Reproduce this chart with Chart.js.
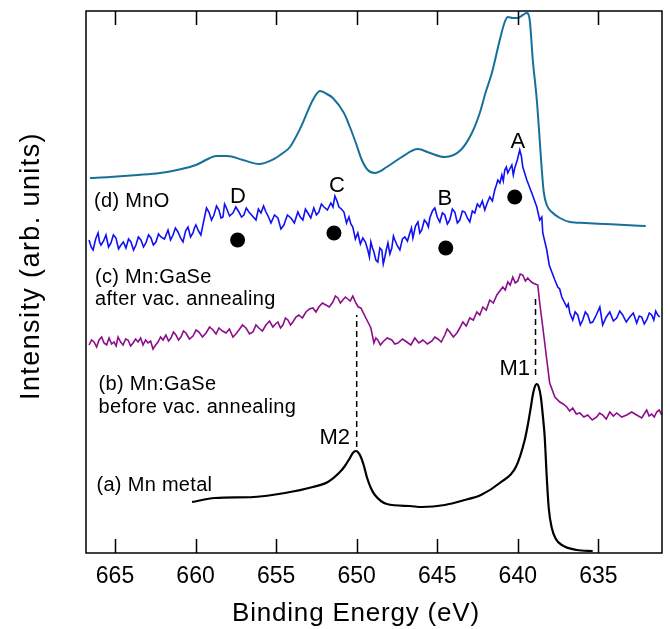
<!DOCTYPE html>
<html>
<head>
<meta charset="utf-8">
<script src="https://cdn.jsdelivr.net/npm/chart.js@4"></script>
<style>
  html, body { margin: 0; padding: 0; background: #fff; }
</style>
</head>
<body>
<canvas id="grafica" width="670" height="629"></canvas>
<script>
// Energía de enlace (eV) e intensidad (u. arb.)
const energiaMnO = [666.55, 665.31, 663.57, 662.21, 661.15, 659.98, 659.23, 658.73, 658.05, 657.06, 656.07, 655.14, 654.58, 654.14, 653.46, 652.72, 652.28, 651.85, 651.48, 650.79, 650.42, 650.05, 649.68, 649.31, 648.87, 648.13, 647.20, 646.20, 645.46, 644.53, 643.54, 642.85, 642.36, 641.99, 641.61, 641.12, 640.81, 640.62, 640.31, 640.00, 639.69, 639.44, 639.26, 639.07, 638.82, 638.64, 638.51, 638.39, 638.20, 637.89, 637.39, 636.77, 635.84, 634.60, 633.36, 632.06];
const intensidadMnO = [375, 376, 378, 380, 383, 388, 394, 397, 397, 393, 389, 394, 400, 406, 426, 453, 462, 459, 455, 440, 426, 410, 393, 383, 380, 386, 396, 404, 400, 396, 403, 420, 440, 461, 480, 513, 531, 536, 535, 535, 538, 540, 533, 493, 453, 413, 383, 361, 348, 341, 335, 331, 330, 329, 328, 327];

const energiaDespues = [666.61, 666.48, 666.36, 666.20, 666.05, 665.96, 665.87, 665.71, 665.56, 665.40, 665.25, 665.10, 664.94, 664.78, 664.63, 664.48, 664.32, 664.16, 664.01, 663.85, 663.70, 663.55, 663.39, 663.23, 663.08, 662.92, 662.77, 662.62, 662.46, 662.30, 662.15, 661.93, 661.71, 661.55, 661.40, 661.25, 661.09, 660.93, 660.78, 660.62, 660.47, 660.31, 660.16, 660.07, 659.98, 659.82, 659.67, 659.57, 659.48, 659.32, 659.17, 659.01, 658.86, 658.70, 658.55, 658.42, 658.30, 658.20, 658.11, 657.89, 657.68, 657.50, 657.31, 657.15, 657.00, 656.85, 656.69, 656.47, 656.25, 656.10, 655.94, 655.78, 655.63, 655.47, 655.32, 655.10, 654.89, 654.70, 654.52, 654.30, 654.08, 653.87, 653.65, 653.50, 653.34, 653.18, 653.03, 652.85, 652.66, 652.50, 652.35, 652.19, 652.03, 651.82, 651.60, 651.47, 651.35, 651.22, 651.10, 650.95, 650.79, 650.63, 650.48, 650.36, 650.24, 650.08, 649.93, 649.77, 649.62, 649.46, 649.31, 649.21, 649.12, 649.02, 648.93, 648.81, 648.69, 648.56, 648.44, 648.35, 648.25, 648.15, 648.06, 647.94, 647.82, 647.72, 647.63, 647.47, 647.32, 647.16, 647.01, 646.85, 646.70, 646.60, 646.51, 646.35, 646.20, 646.08, 645.96, 645.80, 645.65, 645.55, 645.46, 645.30, 645.15, 645.00, 644.84, 644.68, 644.53, 644.37, 644.22, 644.06, 643.91, 643.75, 643.60, 643.44, 643.29, 643.13, 642.98, 642.82, 642.67, 642.51, 642.36, 642.20, 642.05, 641.90, 641.74, 641.58, 641.43, 641.33, 641.24, 641.11, 640.99, 640.90, 640.81, 640.71, 640.62, 640.50, 640.37, 640.28, 640.19, 640.03, 639.88, 639.78, 639.69, 639.44, 639.13, 638.82, 638.64, 638.51, 638.45, 638.20, 638.05, 637.89, 637.70, 637.52, 637.40, 637.27, 636.96, 636.87, 636.77, 636.59, 636.44, 636.28, 636.12, 635.97, 635.81, 635.66, 635.50, 635.35, 635.13, 634.91, 634.73, 634.51, 634.29, 634.07, 633.86, 633.67, 633.49, 633.27, 633.05, 632.83, 632.62, 632.46, 632.31, 632.15, 632.00, 631.84, 631.69, 631.56, 631.44, 631.31, 631.19];
const intensidadDespues = [313, 306, 303, 314, 320, 311, 308, 312, 318, 306, 310, 318, 315, 304, 308, 311, 305, 314, 311, 303, 308, 316, 313, 306, 310, 318, 315, 308, 311, 319, 316, 314, 323, 313, 318, 325, 321, 315, 311, 322, 326, 316, 320, 325, 328, 322, 318, 326, 333, 345, 341, 333, 338, 347, 343, 335, 336, 349, 346, 337, 340, 346, 341, 336, 338, 345, 341, 337, 333, 344, 340, 347, 341, 336, 330, 338, 335, 324, 328, 338, 335, 330, 341, 336, 333, 344, 340, 335, 345, 338, 341, 349, 346, 343, 350, 346, 357, 352, 346, 344, 341, 330, 336, 329, 326, 314, 320, 309, 315, 311, 303, 296, 311, 305, 301, 293, 291, 305, 303, 289, 296, 304, 310, 299, 305, 317, 313, 307, 303, 314, 316, 312, 320, 325, 315, 327, 331, 320, 323, 333, 330, 326, 335, 342, 345, 336, 331, 340, 338, 329, 333, 344, 341, 330, 333, 342, 341, 335, 331, 342, 340, 349, 346, 352, 343, 350, 356, 352, 363, 368, 373, 370, 378, 372, 383, 386, 380, 384, 388, 378, 385, 393, 403, 397, 386, 373, 360, 346, 333, 336, 320, 303, 288, 281, 273, 266, 264, 256, 246, 249, 240, 233, 241, 238, 228, 233, 241, 238, 230, 231, 238, 246, 228, 236, 241, 232, 235, 242, 238, 231, 236, 240, 230, 237, 236, 229, 233, 240, 238, 233, 242, 238, 236];

const energiaAntes = [666.61, 666.45, 666.30, 666.14, 665.99, 665.83, 665.68, 665.52, 665.37, 665.21, 665.06, 664.93, 664.81, 664.65, 664.50, 664.34, 664.19, 664.03, 663.88, 663.72, 663.57, 663.41, 663.26, 663.10, 662.95, 662.79, 662.64, 662.48, 662.33, 662.17, 662.02, 661.84, 661.68, 661.53, 661.37, 661.22, 661.06, 660.91, 660.75, 660.60, 660.38, 660.16, 659.97, 659.79, 659.57, 659.35, 659.13, 658.92, 658.73, 658.55, 658.33, 658.11, 657.90, 657.68, 657.50, 657.31, 657.09, 656.87, 656.65, 656.44, 656.25, 656.07, 655.85, 655.63, 655.41, 655.20, 655.04, 654.89, 654.73, 654.58, 654.42, 654.27, 654.11, 653.96, 653.77, 653.59, 653.37, 653.15, 652.93, 652.72, 652.53, 652.35, 652.13, 651.91, 651.70, 651.48, 651.32, 651.17, 651.01, 650.86, 650.70, 650.55, 650.40, 650.24, 650.05, 649.90, 649.74, 649.43, 649.27, 649.12, 648.93, 648.81, 648.69, 648.53, 648.38, 648.10, 647.82, 647.63, 647.44, 647.16, 646.89, 646.64, 646.39, 646.14, 645.89, 645.61, 645.33, 645.15, 644.96, 644.75, 644.53, 644.38, 644.22, 644.00, 643.78, 643.60, 643.41, 643.20, 642.98, 642.76, 642.54, 642.36, 642.17, 641.96, 641.74, 641.52, 641.30, 641.12, 640.93, 640.78, 640.62, 640.47, 640.31, 640.16, 640.00, 639.85, 639.69, 639.53, 639.38, 639.23, 639.07, 638.76, 638.64, 638.45, 638.20, 638.02, 637.70, 637.39, 637.18, 636.96, 636.78, 636.59, 636.37, 636.15, 635.90, 635.66, 635.38, 635.10, 634.92, 634.73, 634.51, 634.29, 634.07, 633.86, 633.55, 633.24, 632.93, 632.62, 632.31, 632.00, 631.85, 631.69, 631.53, 631.38, 631.22, 631.07];
const intensidadAntes = [208, 213, 211, 206, 213, 216, 210, 208, 215, 209, 211, 207, 216, 211, 208, 214, 213, 207, 210, 214, 211, 215, 208, 213, 210, 212, 204, 208, 211, 216, 213, 218, 212, 215, 221, 218, 213, 216, 222, 220, 214, 217, 223, 221, 216, 220, 226, 223, 219, 225, 222, 220, 224, 216, 219, 223, 228, 225, 219, 221, 228, 225, 222, 228, 232, 226, 229, 231, 225, 228, 235, 233, 228, 231, 236, 238, 235, 241, 244, 245, 241, 246, 250, 248, 246, 251, 257, 255, 250, 253, 256, 254, 252, 257, 250, 246, 245, 235, 230, 225, 210, 215, 213, 208, 211, 215, 213, 209, 210, 214, 211, 208, 215, 210, 213, 209, 212, 216, 214, 211, 218, 224, 221, 216, 220, 225, 231, 227, 235, 233, 241, 238, 246, 243, 253, 250, 258, 262, 266, 263, 271, 268, 276, 270, 272, 279, 278, 272, 275, 272, 270, 268, 250, 226, 193, 170, 156, 151, 149, 146, 142, 145, 139, 140, 136, 138, 133, 136, 140, 138, 134, 141, 137, 140, 136, 138, 141, 138, 135, 143, 137, 139, 136, 141, 143, 138];

const energiaMetal = [660.22, 658.80, 656.38, 654.45, 652.72, 651.79, 651.04, 650.73, 650.42, 650.24, 650.05, 649.93, 649.74, 649.55, 649.37, 649.12, 648.87, 648.13, 646.70, 645.96, 644.53, 643.29, 642.29, 641.12, 640.12, 639.57, 639.38, 639.19, 639.07, 638.95, 638.82, 638.70, 638.57, 638.45, 638.33, 638.20, 638.08, 637.89, 637.64, 637.27, 636.34, 635.35];
const intensidadMetal = [51, 55, 56, 60, 66, 71, 81, 87, 95, 100, 102, 101, 96, 87, 76, 65, 58, 49, 47, 46, 48, 53, 58, 70, 86, 113, 128, 146, 158, 166, 169, 166, 156, 138, 116, 75, 45, 25, 14, 8, 3, 2];

// Marcas A-D (puntos negros)
const energiaPuntos = [657.39, 651.41, 644.47, 640.19];
const intensidadPuntos = [313, 320, 305, 356];

// Líneas guía M2 y M1
const energiaM2 = [650.0, 650.0];
const intensidadM2 = [106, 238];
const energiaM1 = [638.9, 638.9];
const intensidadM1 = [178, 257];

const ticksEnergia = [665, 660, 655, 650, 645, 640, 635];

const FUENTE = "'Liberation Sans', Arial, Helvetica, sans-serif";

function pares(xs, ys) {
  return xs.map((x, i) => ({ x: x, y: ys[i] }));
}

// Marco, ticks interiores y textos
const marcoYTextos = {
  id: 'marcoYTextos',
  afterDraw(chart) {
    const { ctx, chartArea: a, scales: { x, y } } = chart;
    ctx.save();
    ctx.strokeStyle = '#000';
    ctx.lineWidth = 1.5;
    ctx.strokeRect(a.left, a.top, a.right - a.left, a.bottom - a.top);
    ctx.beginPath();
    ticksEnergia.forEach(v => {
      const px = Math.round(x.getPixelForValue(v)) + 0.5;
      ctx.moveTo(px, a.top);
      ctx.lineTo(px, a.top + 14);
      ctx.moveTo(px, a.bottom);
      ctx.lineTo(px, a.bottom - 14);
    });
    ctx.stroke();

    ctx.fillStyle = '#000';
    ctx.textBaseline = 'alphabetic';
    const texto = (t, e, i, size, align) => {
      ctx.font = size + 'px ' + FUENTE;
      ctx.textAlign = align;
      ctx.fillText(t, x.getPixelForValue(e), y.getPixelForValue(i));
    };
    ctx.letterSpacing = '0.3px';
    texto('(d) MnO', 666.30, 346, 20, 'left');
    texto('(c) Mn:GaSe', 666.24, 270, 20, 'left');
    texto('after vac. annealing', 666.24, 248, 20, 'left');
    texto('(b) Mn:GaSe', 666.02, 163, 20, 'left');
    texto('before vac. annealing', 666.02, 140, 20, 'left');
    texto('(a) Mn metal', 666.15, 62, 20, 'left');
    ctx.letterSpacing = '0px';
    texto('A', 640.0, 405, 22, 'center');
    texto('B', 644.53, 348, 22, 'center');
    texto('C', 651.23, 361, 22, 'center');
    texto('D', 657.37, 350, 22, 'center');
    texto('M2', 651.36, 109, 22, 'center');
    texto('M1', 640.19, 178, 22, 'center');

    // títulos de ejes
    ctx.font = '26px ' + FUENTE;
    ctx.textAlign = 'center';
    ctx.letterSpacing = '0.8px';
    ctx.fillText('Binding Energy (eV)', 356, 621);
    ctx.font = '27px ' + FUENTE;
    ctx.letterSpacing = '1.4px';
    ctx.translate(39, 266);
    ctx.rotate(-Math.PI / 2);
    ctx.fillText('Intensity (arb. units)', 0, 0);
    ctx.restore();
  }
};

const ctx = document.getElementById('grafica').getContext('2d');
new Chart(ctx, {
  type: 'line',
  data: {
    datasets: [
      { data: pares(energiaMnO, intensidadMnO), borderColor: '#16709a', borderWidth: 2, cubicInterpolationMode: 'monotone' },
      { data: pares(energiaDespues, intensidadDespues), borderColor: '#1010f5', borderWidth: 1.6, tension: 0 },
      { data: pares(energiaAntes, intensidadAntes), borderColor: '#8c0c8c', borderWidth: 1.6, tension: 0 },
      { data: pares(energiaMetal, intensidadMetal), borderColor: '#000', borderWidth: 2.2, cubicInterpolationMode: 'monotone' },
      { data: pares(energiaM2, intensidadM2), borderColor: '#000', borderWidth: 1.5, borderDash: [6, 4] },
      { data: pares(energiaM1, intensidadM1), borderColor: '#000', borderWidth: 1.5, borderDash: [6, 4] },
      { data: pares(energiaPuntos, intensidadPuntos), showLine: false, pointRadius: 7.5, pointBackgroundColor: '#000', pointBorderWidth: 0 }
    ]
  },
  options: {
    responsive: false,
    animation: false,
    events: [],
    elements: { point: { radius: 0 } },
    layout: { padding: { left: 86, right: 8, top: 11, bottom: 0 } },
    plugins: { legend: { display: false }, tooltip: { enabled: false } },
    scales: {
      x: {
        type: 'linear',
        min: 631.05,
        max: 666.8,
        reverse: true,
        grid: { display: false, drawTicks: false },
        border: { display: false },
        ticks: { color: '#000', padding: 10, font: { size: 23, family: FUENTE }, maxRotation: 0 },
        afterBuildTicks: s => { s.ticks = ticksEnergia.map(v => ({ value: v })); },
        afterFit: s => { s.height = 76; }
      },
      y: { display: false, min: 0, max: 542 }
    }
  },
  plugins: [marcoYTextos]
});
</script>
</body>
</html>
